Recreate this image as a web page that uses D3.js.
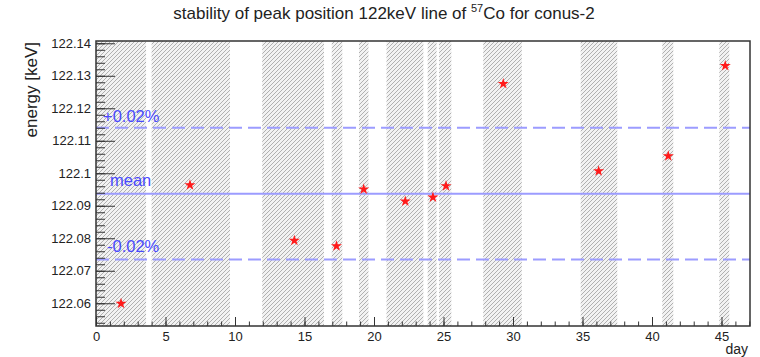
<!DOCTYPE html>
<html>
<head>
<meta charset="utf-8">
<script src="https://cdn.jsdelivr.net/npm/d3@7"></script>
<style>
  body { margin: 0; background: #fff; }
  svg { display: block; font-family: "Liberation Sans", Arial, Helvetica, sans-serif; }
</style>
</head>
<body>
<svg id="chart" width="760" height="357"></svg>
<script>
// ---- data ----
const days     = [1.80, 6.76, 14.27, 17.30, 19.26, 22.25, 24.24, 25.18, 29.30, 36.16, 41.17, 45.27];
const energies = [122.0599, 122.0964, 122.0793, 122.0776, 122.0951, 122.0914, 122.0926, 122.0961, 122.1275, 122.1007, 122.1053, 122.1331];
const bandStarts = [0.0, 4.0, 11.96, 16.96, 18.92, 20.90, 23.86, 24.68, 27.86, 34.87, 40.74, 44.84];
const bandEnds   = [3.6, 9.64, 16.40, 17.72, 19.60, 23.55, 24.50, 25.56, 30.63, 37.50, 41.53, 45.56];
const bandLevels = [122.1140, 122.0937, 122.0735];
const levelLabels = ["+0.02%", "mean", "-0.02%"];
const xTicks = [0, 5, 10, 15, 20, 25, 30, 35, 40, 45];
const yTicks = [122.06, 122.07, 122.08, 122.09, 122.10, 122.11, 122.12, 122.13, 122.14];
const yTickLabels = ["122.06", "122.07", "122.08", "122.09", "122.1", "122.11", "122.12", "122.13", "122.14"];
const titleMain = "stability of peak position 122keV line of ";
const titleSup = "57";
const titleEnd = "Co for conus-2";

// ---- layout ----
const L = 96, R = 750, T = 41, B = 326;
const svg = d3.select("#chart");
const x = d3.scaleLinear().domain([0, 47.05]).range([L, R]);
const y = d3.scaleLinear().domain([122.053, 122.1407]).range([B, T]);

// hatch pattern
const defs = svg.append("defs");
const pat = defs.append("pattern")
  .attr("id", "hatch").attr("patternUnits", "userSpaceOnUse")
  .attr("width", 4).attr("height", 4);
pat.append("rect").attr("width", 4).attr("height", 4).attr("fill", "#f2f2f2");
pat.append("path").attr("d", "M-1,1 l2,-2 M0,4 l4,-4 M3,5 l2,-2")
  .attr("stroke", "#b0b0b0").attr("stroke-width", 1);
defs.append("clipPath").attr("id", "clip").append("rect")
  .attr("x", L).attr("y", T).attr("width", R - L).attr("height", B - T);

// bands
svg.append("g").attr("clip-path", "url(#clip)")
  .selectAll("rect").data(bandStarts).join("rect")
  .attr("x", (d) => x(d))
  .attr("width", (d, i) => x(bandEnds[i]) - x(d))
  .attr("y", T).attr("height", B - T)
  .attr("fill", "url(#hatch)");

// reference lines
const lines = svg.append("g");
bandLevels.forEach((v, i) => {
  lines.append("line")
    .attr("x1", L).attr("x2", R).attr("y1", y(v)).attr("y2", y(v))
    .attr("stroke", "#9c9cff").attr("stroke-width", 2)
    .attr("stroke-dasharray", i === 1 ? null : "13,6");
});
const labelX = [103, 110, 107];
const labelOffsets = [-6, -8, -7];
bandLevels.forEach((v, i) => {
  svg.append("text")
    .attr("x", labelX[i]).attr("y", y(v) + labelOffsets[i])
    .attr("fill", "#4a4aff").attr("font-size", 16.5)
    .text(levelLabels[i]);
});

// axes (ROOT style ticks inside)
const yMajor = d3.axisLeft(y).tickValues(yTicks).tickSize(-19)
  .tickFormat((d, i) => yTickLabels[i]).tickPadding(5);
const yMinor = d3.axisLeft(y).tickValues(d3.range(122.054, 122.1405, 0.002)).tickSize(-9).tickFormat("");
const xMajor = d3.axisBottom(x).tickValues(xTicks).tickSize(-9).tickPadding(6);
const xMinor = d3.axisBottom(x).tickValues(d3.range(0, 47.01, 1)).tickSize(-4.5).tickFormat("");

function styleAxis(g) {
  g.select(".domain").remove();
  g.selectAll("line").attr("stroke", "#333").attr("stroke-width", 1);
  g.selectAll("text").attr("font-size", 13).attr("fill", "#222")
    .attr("font-family", "Liberation Sans, Arial, sans-serif");
}
svg.append("g").attr("transform", `translate(${L},0)`).call(yMinor).call(styleAxis);
svg.append("g").attr("transform", `translate(${L},0)`).call(yMajor).call(styleAxis);
svg.append("g").attr("transform", `translate(0,${B})`).call(xMinor).call(styleAxis);
svg.append("g").attr("transform", `translate(0,${B})`).call(xMajor).call(styleAxis);

// frame
svg.append("rect").attr("x", L).attr("y", T).attr("width", R - L).attr("height", B - T)
  .attr("fill", "none").attr("stroke", "#333").attr("stroke-width", 1.5);

// points
const star = d3.symbol().type(d3.symbolStar).size(38);
svg.append("g").selectAll("path").data(days).join("path")
  .attr("transform", (d, i) => `translate(${x(d)},${y(energies[i])})`)
  .attr("d", star)
  .attr("fill", "#ff1a1a");

// titles
const title = svg.append("text").attr("x", 384).attr("y", 19)
  .attr("text-anchor", "middle").attr("font-size", 17).attr("fill", "#222");
title.append("tspan").text(titleMain);
title.append("tspan").attr("font-size", 11).attr("dy", -7).text(titleSup);
title.append("tspan").attr("dy", 7).text(titleEnd);

svg.append("text").attr("transform", "translate(37,42) rotate(-90)")
  .attr("text-anchor", "end").attr("font-size", 17).attr("fill", "#222")
  .text("energy [keV]");
svg.append("text").attr("x", 748).attr("y", 354)
  .attr("text-anchor", "end").attr("font-size", 14).attr("fill", "#222")
  .text("day");
</script>
</body>
</html>
